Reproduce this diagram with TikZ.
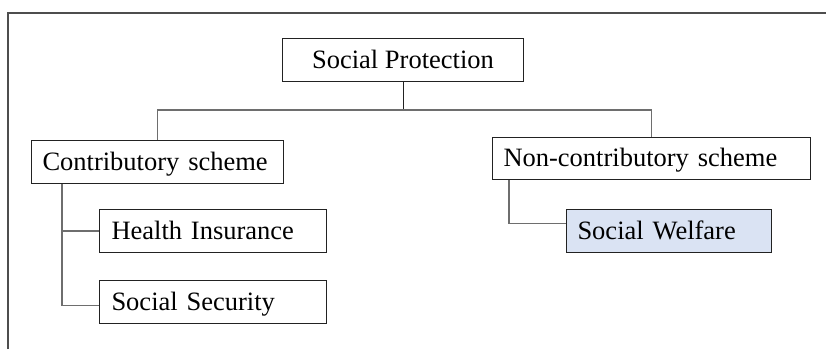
\documentclass[tikz,border=0pt]{standalone}
\usepackage{fontspec}
\setmainfont{Liberation Serif}
\definecolor{edge}{HTML}{222222}
\definecolor{wire}{HTML}{6E6E6E}
\definecolor{welfare}{HTML}{DAE3F3}
\begin{document}
\begin{tikzpicture}[x=1pt,y=-1pt,
  frame/.style={draw=edge!80, line width=1.3pt},
  box/.style={draw=edge, line width=1pt, rectangle, anchor=north west,
    font=\fontsize{26.5}{32}\selectfont, text height=20pt, text depth=4pt,
    inner ysep=0pt},
  leftbox/.style={box, align=left, inner xsep=11pt},
  conn/.style={draw=wire, line width=1.3pt}]
  \useasboundingbox (0,0) rectangle (826,349);
  % outer frame (left and top edges)
  \draw[frame] (8,349) -- (8,13) -- (826,13);

  % boxes
  \node[box, minimum width=241pt, minimum height=43pt] (sp) at (282,38) {Social Protection};
  \node[leftbox, minimum width=252pt, minimum height=43pt, text width=230pt] (c1) at (31,140) {Contributory scheme};
  \node[leftbox, inner xsep=12pt, minimum width=227pt, minimum height=43pt, text width=203pt] (hi) at (99,209) {Health Insurance};
  \node[leftbox, inner xsep=12pt, minimum width=227pt, minimum height=43pt, text width=203pt] (ss) at (99,280) {Social Security};
  \node[leftbox, minimum width=318pt, minimum height=42pt, text width=296pt] (nc) at (492,137) {Non-contributory scheme};
  \node[leftbox, fill=welfare, minimum width=205pt, minimum height=43pt, text width=183pt] (sw) at (566,209) {Social Welfare};

  % connectors
  \coordinate (hub) at (sp.south |- 0,110);
  \draw[draw=edge, line width=1pt] (sp.south) -- (hub);
  \draw[conn] (c1.north) |- (hub) -| (nc.north);
  \coordinate (cspine) at ([xshift=31pt]c1.south west);
  \draw[conn] (cspine) |- (hi.west);
  \draw[conn] (cspine) |- ([yshift=-3.5pt]ss.west);
  \coordinate (nspine) at ([xshift=17pt]nc.south west);
  \draw[conn] (nspine) |- ([yshift=7.5pt]sw.west);
\end{tikzpicture}
\end{document}
